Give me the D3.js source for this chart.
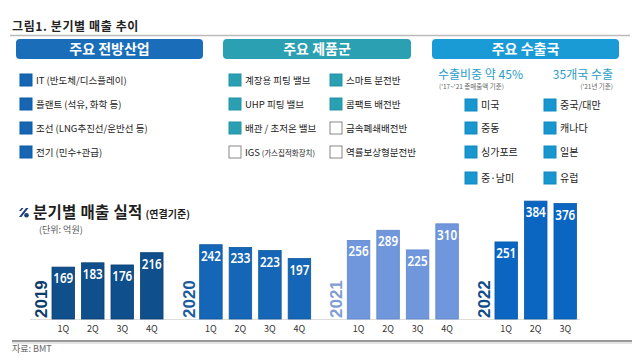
<!DOCTYPE html>
<html><head><meta charset="utf-8">
<script src="https://cdn.jsdelivr.net/npm/d3@7"></script>
<style>
html,body{margin:0;padding:0;background:#fff;}
svg{display:block;font-family:"Noto Sans CJK KR","Noto Sans",sans-serif;}
</style></head>
<body>
<svg id="c" width="640" height="360"></svg>
<script>
// ---- data ----
const years = ["2019","2020","2021","2022"];
const quarters = ["1Q","2Q","3Q","4Q"];
const sales2019 = [169,183,176,216];
const sales2020 = [242,233,223,197];
const sales2021 = [256,289,225,310];
const sales2022 = [251,384,376];
const salesByYear = [sales2019, sales2020, sales2021, sales2022];

const industries = ["IT (반도체/디스플레이)","플랜트 (석유, 화학 등)","조선 (LNG추진선/운반선 등)","전기 (민수+관급)"];
const productsCol1 = ["계장용 피팅 밸브","UHP 피팅 밸브","배관 / 초저온 밸브","IGS"];
const productsCol1Filled = [true,true,true,false];
const productsCol2 = ["스마트 분전반","콤팩트 배전반","금속폐쇄배전반","역률보상형분전반"];
const productsCol2Filled = [true,true,false,false];
const exportCol1 = ["미국","중동","싱가포르","중·남미"];
const exportCol2 = ["중국/대만","캐나다","일본","유럽"];

const svg = d3.select("#c");

// ---- top heading ----
svg.append("text").attr("x",12).attr("y",31).attr("font-size",12).attr("font-weight","bold")
  .attr("fill","#222").attr("letter-spacing",0.6).text("그림1. 분기별 매출 추이");
svg.append("line").attr("x1",10).attr("x2",630).attr("y1",35.5).attr("y2",35.5)
  .attr("stroke","#bbb").attr("stroke-width",1.5);

// ---- header boxes ----
const boxes = [
  {x:16,w:187,c:"#1a6db8",t:"주요 전방산업"},
  {x:223,w:188,c:"#2aa0b2",t:"주요 제품군"},
  {x:432,w:187,c:"#1b9bd6",t:"주요 수출국"}
];
boxes.forEach(b=>{
  svg.append("rect").attr("x",b.x).attr("y",39).attr("width",b.w).attr("height",20).attr("rx",4)
    .attr("fill",b.c);
  svg.append("text").attr("x",b.x+b.w/2).attr("y",54).attr("text-anchor","middle")
    .attr("font-size",14).attr("font-weight","bold").attr("fill","#fff").text(b.t);
});

// ---- legend lists ----
const rowY = [80,104,128,152];
function item(x,y,label,fill,stroke,size){
  svg.append("rect").attr("x",x).attr("y",y-6).attr("width",12).attr("height",12)
    .attr("fill",fill).attr("stroke",stroke).attr("stroke-width",1);
  return svg.append("text").attr("x",x+16).attr("y",y+3.5).attr("font-size",size||9.5)
    .attr("fill","#222").text(label);
}
industries.forEach((t,i)=>item(20,rowY[i],t,"#1567b5","#0f5aa0"));
productsCol1.forEach((t,i)=>{
  const f = productsCol1Filled[i];
  const tx = item(229,rowY[i],t,f?"#2aa0b2":"#fff",f?"#2393a5":"#888");
  if(t==="IGS"){ tx.append("tspan").attr("font-size",7.5).text(" (가스집적화장치)"); }
});
productsCol2.forEach((t,i)=>{
  const f = productsCol2Filled[i];
  item(330,rowY[i],t,f?"#2aa0b2":"#fff",f?"#2393a5":"#888");
});
svg.append("text").attr("x",438).attr("y",79).attr("font-size",12).attr("fill","#2a9dc8").text("수출비중 약 45%");
svg.append("text").attr("x",439).attr("y",89).attr("font-size",6.5).attr("fill","#666").text("('17~'21 총매출액 기준)");
svg.append("text").attr("x",613).attr("y",79).attr("text-anchor","end").attr("font-size",12).attr("fill","#2a9dc8").text("35개국 수출");
svg.append("text").attr("x",613).attr("y",89).attr("text-anchor","end").attr("font-size",6.5).attr("fill","#666").text("('21년 기준)");
const expY = [105,128,152,178];
exportCol1.forEach((t,i)=>item(465,expY[i],t,"#1896d0","#1288c0",10));
exportCol2.forEach((t,i)=>item(544,expY[i],t,"#1896d0","#1288c0",10));

// ---- chart title ----
const logo = svg.append("g").attr("transform","translate(19,208)");
logo.append("path").attr("d","M0,9 L7,0 L9.5,0 L2.5,9 Z").attr("fill","#1d3f7a");
logo.append("circle").attr("cx",7.5).attr("cy",7.2).attr("r",2.3).attr("fill","#1d3f7a");
logo.append("path").attr("d","M0,3 L2.5,0 L4.5,0 L2,3 Z").attr("fill","#1d3f7a");
const title = svg.append("text").attr("x",33).attr("y",218).attr("font-size",15.5).attr("font-weight","bold")
  .attr("fill","#1e1e1e").attr("letter-spacing",0.3).text("분기별 매출 실적");
title.append("tspan").attr("font-size",10).attr("dx",3).attr("letter-spacing",0).text("(연결기준)");
svg.append("text").attr("x",39).attr("y",233).attr("font-size",9).attr("fill","#555").text("(단위: 억원)");

// ---- bars ----
const x0 = d3.scaleBand().domain(years).range([52,606]).paddingInner(0.248).paddingOuter(0);
const x1 = d3.scaleBand().domain(quarters).range([0,x0.bandwidth()]).paddingInner(0.237).paddingOuter(0);
const y = d3.scaleLinear().domain([0,400]).range([319,196.2]);

const barColors = ["#0f4f8b","#1566b6","#7097dc","#0b66c2"];
const barStroke = ["#0a3f72","#0f589f","#5f86cc","#0a58a8"];
const yearColors = ["#0d3b6c","#1b5c9d","#7f9dd4","#0f4c88"];

svg.append("line").attr("x1",30).attr("x2",580).attr("y1",319.5).attr("y2",319.5).attr("stroke","#ddd");

years.forEach((yr,gi)=>{
  const g = svg.append("g").attr("transform",`translate(${x0(yr)},0)`);
  const vals = salesByYear[gi];
  const data = vals.map((v,i)=>({q:quarters[i],v}));
  g.selectAll("rect").data(data).join("rect")
    .attr("x",d=>x1(d.q)).attr("y",d=>y(d.v)).attr("width",x1.bandwidth())
    .attr("height",d=>y(0)-y(d.v)).attr("fill",barColors[gi]).attr("stroke",barStroke[gi]).attr("stroke-width",0.8);
  g.selectAll("text.val").data(data).join("text").attr("class","val")
    .attr("x",d=>x1(d.q)+x1.bandwidth()/2).attr("y",d=>y(d.v)+16)
    .attr("text-anchor","middle").attr("fill","#fff").attr("font-size",13.5).attr("font-weight",600)
    .attr("font-family","'Noto Sans','Open Sans',sans-serif")
    .attr("textLength",20).attr("lengthAdjust","spacingAndGlyphs")
    .text(d=>d.v);
  g.selectAll("text.q").data(data).join("text").attr("class","q")
    .attr("x",d=>x1(d.q)+x1.bandwidth()/2).attr("y",331.5)
    .attr("text-anchor","middle").attr("fill","#333").attr("font-size",9)
    .text(d=>d.q);
  svg.append("text").attr("transform",`translate(${x0(yr)-5},318) rotate(-90)`)
    .attr("font-size",17).attr("font-weight","bold").attr("fill",yearColors[gi])
    .attr("font-family","'Liberation Sans','Noto Sans',sans-serif").text(yr);
});

// ---- bottom rule & source ----
svg.append("line").attr("x1",12).attr("x2",632).attr("y1",341).attr("y2",341).attr("stroke","#777").attr("stroke-width",1.5);
svg.append("line").attr("x1",12).attr("x2",632).attr("y1",343).attr("y2",343).attr("stroke","#ccc").attr("stroke-width",1);
svg.append("text").attr("x",12).attr("y",352).attr("font-size",9).attr("fill","#666").text("자료: BMT");
</script>
</body></html>
